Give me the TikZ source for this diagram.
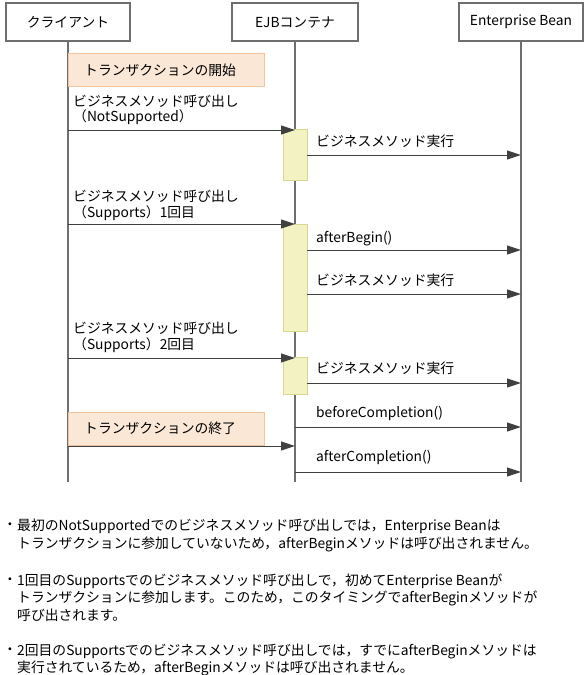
\documentclass[tikz,border=0pt]{standalone}
\usepackage{fontspec}
\setmainfont{Noto Sans CJK JP}
\usetikzlibrary{arrows.meta}
\definecolor{ln}{HTML}{6E6E6E}
\definecolor{orfill}{HTML}{FAE7D6}
\definecolor{ordraw}{HTML}{F0C4A0}
\definecolor{acfill}{HTML}{F2F2C2}
\definecolor{acdraw}{HTML}{D8D890}
\tikzset{
  hdr/.style={draw=ln, line width=1.2pt, fill=white, minimum height=38pt, inner sep=0pt},
  life/.style={draw=ln, line width=1.2pt},
  actbox/.style={draw=acdraw, fill=acfill, line width=0.8pt},
  orbox/.style={draw=ordraw, fill=orfill, line width=0.8pt},
  msg/.style={draw=black!75, line width=1pt, -{Triangle[length=14pt,width=9pt]}},
  lbl/.style={anchor=west, inner sep=0pt},
}
\begin{document}
\begin{tikzpicture}[x=1pt,y=-1pt, font=\fontsize{13.8}{16}\selectfont]
\useasboundingbox (0,0) rectangle (588,675);
% headers
\node[hdr, minimum width=124pt] (cl) at (68,22) {クライアント};
\node[hdr, minimum width=126pt] (ejb) at (295,22) {EJBコンテナ};
\node[hdr, minimum width=124pt] (eb) at (521,22) {Enterprise Bean};
% lifeline ends
\coordinate (clE) at (68,482);
\coordinate (ejbE) at (295,482);
\coordinate (ebE) at (521,482);
\draw[life] (cl.south) -- (clE);
\draw[life] (ejb.south) -- (ejbE);
\draw[life] (eb.south) -- (ebE);
% orange boxes
\draw[orbox] (68,53) rectangle (264,86);
\node[lbl] (tb) at (84,70) {トランザクションの開始};
\draw[orbox] (68,412) rectangle (264,445);
\node[lbl] (te) at (84,428) {トランザクションの終了};
% activations
\draw[actbox] (283,129) rectangle (307,180);
\draw[actbox] (283,224) rectangle (307,331);
\draw[actbox] (283,357) rectangle (307,394);
% coordinates for messages
\foreach \n/\y in {1/130,3/224,6/358,9/446}{
  \coordinate (c\n) at (68,\y);
  \coordinate (e\n) at (295,\y);
}
\foreach \n/\y in {2/155,4/250,5/294,7/383}{
  \coordinate (s\n) at (307,\y);
  \coordinate (b\n) at (521,\y);
}
\foreach \n/\y in {8/427,10/472}{
  \coordinate (s\n) at (295,\y);
  \coordinate (b\n) at (521,\y);
}
% messages
\node[lbl] (l1a) at (73,101) {ビジネスメソッド呼び出し};
\node[lbl] (l1b) at (73,117) {（NotSupported）};
\draw[msg] (c1) -- (e1);
\node[lbl] (l2) at (316,141) {ビジネスメソッド実行};
\draw[msg] (s2) -- (b2);
\node[lbl] (l3a) at (73,196) {ビジネスメソッド呼び出し};
\node[lbl] (l3b) at (73,213) {（Supports）1回目};
\draw[msg] (c3) -- (e3);
\node[lbl] (l4) at (316,239) {afterBegin()};
\draw[msg] (s4) -- (b4);
\node[lbl] (l5) at (316,280) {ビジネスメソッド実行};
\draw[msg] (s5) -- (b5);
\node[lbl] (l6a) at (73,328) {ビジネスメソッド呼び出し};
\node[lbl] (l6b) at (73,345) {（Supports）2回目};
\draw[msg] (c6) -- (e6);
\node[lbl] (l7) at (316,368) {ビジネスメソッド実行};
\draw[msg] (s7) -- (b7);
\node[lbl] (l8) at (316,413) {beforeCompletion()};
\draw[msg] (s8) -- (b8);
\draw[msg] (c9) -- (e9);
\node[lbl] (l10) at (316,457) {afterCompletion()};
\draw[msg] (s10) -- (b10);
% notes
\node[lbl] (n1d) at (3,526) {・};
\node[lbl] (n1a) at (17,526) {最初のNotSupportedでのビジネスメソッド呼び出しでは，Enterprise Beanは};
\node[lbl] (n1b) at (17,544) {トランザクションに参加していないため，afterBeginメソッドは呼び出されません。};
\node[lbl] (n2d) at (3,581) {・};
\node[lbl] (n2a) at (17,581) {1回目のSupportsでのビジネスメソッド呼び出しで，初めてEnterprise Beanが};
\node[lbl] (n2b) at (17,598) {トランザクションに参加します。このため，このタイミングでafterBeginメソッドが};
\node[lbl] (n2c) at (17,615) {呼び出されます。};
\node[lbl] (n3d) at (3,651) {・};
\node[lbl] (n3a) at (17,651) {2回目のSupportsでのビジネスメソッド呼び出しでは，すでにafterBeginメソッドは};
\node[lbl] (n3b) at (17,668) {実行されているため，afterBeginメソッドは呼び出されません。};
\end{tikzpicture}
\end{document}
